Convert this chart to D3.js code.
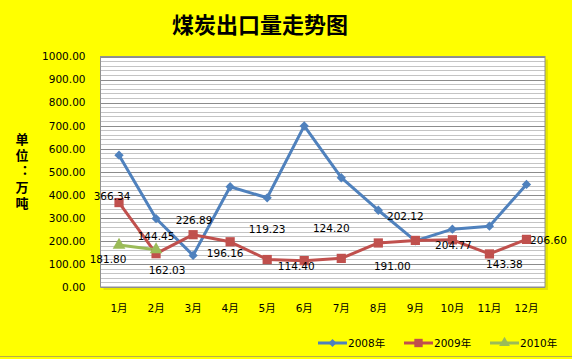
<!DOCTYPE html>
<html>
<head>
<meta charset="utf-8">
<script src="https://cdn.jsdelivr.net/npm/d3@7"></script>
<style>
  body { margin: 0; background: #ffff00; }
  svg { display: block; }
</style>
</head>
<body>
<div id="chart"></div>
<script>
// data
var months = ['1月', '2月', '3月', '4月', '5月', '6月', '7月', '8月', '9月', '10月', '11月', '12月'];
var yTicks = [0, 100, 200, 300, 400, 500, 600, 700, 800, 900, 1000];
var series2008 = [572, 297, 137, 435, 387, 699, 474, 333, 200, 251, 264, 445];
var series2009 = [366.34, 144.45, 226.89, 196.16, 119.23, 114.40, 124.20, 191.00, 202.12, 204.77, 143.38, 206.60];
var series2010 = [181.80, 162.03];
var seriesNames = ['2008年', '2009年', '2010年'];

// hand placed label offsets (px), like the moved labels in the original sheet
var labelOffsets2009 = [[-7, -6], [0, -17], [1, -14], [-5, 12], [0, -30], [-8, 6], [-10, -30], [14, 23], [-10, -24], [1, 6], [15, 10], [22, 1]];
var labelOffsets2010 = [[-11, 14], [11, 21]];

var width = 572, height = 359;
var plot = { left: 100.5, right: 545, top: 56.5, bottom: 287 };
var colors = ['#4f81bd', '#c0504d', '#9bbb59'];

var svg = d3.select('#chart')
    .append('svg')
    .attr('width', width)
    .attr('height', height)
    .style('font-family', '"DejaVu Sans", sans-serif');

svg.append('rect')
    .attr('width', width)
    .attr('height', height)
    .attr('fill', '#ffff00');

svg.append('line')
    .attr('x1', 0).attr('x2', width)
    .attr('y1', 356.5).attr('y2', 356.5)
    .attr('stroke', '#b8ae4a')
    .attr('stroke-width', 1);

var x = d3.scaleBand().domain(months).range([plot.left, plot.right]).padding(0);
var y = d3.scaleLinear().domain([0, 1000]).range([plot.bottom, plot.top]);
var cx = function(i) { return x(months[i]) + x.bandwidth() / 2; };

// title
svg.append('text')
    .attr('x', 260)
    .attr('y', 33)
    .attr('text-anchor', 'middle')
    .style('font-family', '"Noto Sans CJK SC", sans-serif')
    .style('font-weight', 700)
    .style('font-size', '22px')
    .text('煤炭出口量走势图');

// plot area + shadow
svg.append('rect')
    .attr('x', plot.left + 3)
    .attr('y', plot.top + 3)
    .attr('width', plot.right - plot.left)
    .attr('height', plot.bottom - plot.top)
    .attr('fill', '#e6e600');

svg.append('rect')
    .attr('x', plot.left)
    .attr('y', plot.top)
    .attr('width', plot.right - plot.left)
    .attr('height', plot.bottom - plot.top)
    .attr('fill', '#ffffff');

// minor gridlines every 20, major every 100
var minor = d3.range(20, 1000, 20).filter(function(v) { return v % 100 !== 0; });
svg.append('g')
    .selectAll('line')
    .data(minor)
    .enter()
    .append('line')
    .attr('x1', plot.left).attr('x2', plot.right)
    .attr('y1', function(d) { return Math.round(y(d)) + 0.5; })
    .attr('y2', function(d) { return Math.round(y(d)) + 0.5; })
    .attr('stroke', '#c4c4c4');

svg.append('g')
    .selectAll('line')
    .data(yTicks)
    .enter()
    .append('line')
    .attr('x1', plot.left).attr('x2', plot.right)
    .attr('y1', function(d) { return Math.round(y(d)) + 0.5; })
    .attr('y2', function(d) { return Math.round(y(d)) + 0.5; })
    .attr('stroke', '#8c8c8c');

svg.append('rect')
    .attr('x', plot.left)
    .attr('y', plot.top)
    .attr('width', plot.right - plot.left)
    .attr('height', plot.bottom - plot.top)
    .attr('fill', 'none')
    .attr('stroke', '#909090');

// axes
var yAxis = svg.append('g')
    .attr('transform', `translate(${plot.left}, 0)`)
    .call(d3.axisLeft(y).tickValues(yTicks).tickFormat(d3.format('.2f')).tickSize(0).tickPadding(15));
yAxis.select('.domain').remove();
yAxis.selectAll('text')
    .style('font-family', '"DejaVu Sans", sans-serif')
    .style('font-size', '10.5px')
    .attr('fill', '#000');

var xAxis = svg.append('g')
    .attr('transform', `translate(0, ${plot.bottom})`)
    .call(d3.axisBottom(x).tickSize(0).tickPadding(18));
xAxis.select('.domain').remove();
xAxis.selectAll('text')
    .style('font-family', '"DejaVu Sans", "Noto Sans CJK SC", sans-serif')
    .style('font-size', '10.5px')
    .attr('fill', '#000');

// y axis title, written vertically
svg.append('text')
    .attr('x', 22)
    .attr('y', 133)
    .style('writing-mode', 'vertical-rl')
    .style('text-orientation', 'upright')
    .style('letter-spacing', '3px')
    .style('font-family', '"Noto Sans CJK SC", sans-serif')
    .style('font-weight', 700)
    .style('font-size', '13px')
    .text('单位：万吨');

// lines
var allSeries = [series2008, series2009, series2010];
var line = d3.line()
    .x(function(d, i) { return cx(i); })
    .y(function(d) { return y(d); });

allSeries.forEach(function(s, k) {
    svg.append('path')
        .datum(s)
        .attr('d', line)
        .attr('fill', 'none')
        .attr('stroke', colors[k])
        .attr('stroke-width', 3)
        .attr('stroke-linejoin', 'round');
});

var symbols = [
    d3.symbol().type(d3.symbolDiamond2).size(55),
    d3.symbol().type(d3.symbolSquare).size(85),
    d3.symbol().type(d3.symbolTriangle).size(70)
];

allSeries.forEach(function(s, k) {
    svg.append('g')
        .selectAll('path')
        .data(s)
        .enter()
        .append('path')
        .attr('d', symbols[k])
        .attr('transform', function(d, i) { return `translate(${cx(i)}, ${y(d)})`; })
        .attr('fill', colors[k]);
});

// data labels
function drawLabels(values, offsets) {
    svg.append('g')
        .selectAll('text')
        .data(values)
        .enter()
        .append('text')
        .attr('x', function(d, i) { return cx(i) + offsets[i][0]; })
        .attr('y', function(d, i) { return y(d) + offsets[i][1]; })
        .attr('dy', '0.35em')
        .attr('text-anchor', 'middle')
        .style('font-size', '10.5px')
        .attr('fill', '#000')
        .text(function(d) { return d3.format('.2f')(d); });
}
drawLabels(series2009, labelOffsets2009);
drawLabels(series2010, labelOffsets2010);

// legend
var legendX = [318, 404, 490];
var legendSymbols = [
    d3.symbol().type(d3.symbolDiamond2).size(40),
    d3.symbol().type(d3.symbolSquare).size(70),
    d3.symbol().type(d3.symbolTriangle).size(50)
];
var legend = svg.append('g');
seriesNames.forEach(function(name, k) {
    var g = legend.append('g').attr('transform', `translate(${legendX[k]}, 343)`);
    g.append('line')
        .attr('x1', 0).attr('x2', 29)
        .attr('stroke', colors[k])
        .attr('stroke-width', 3);
    g.append('path')
        .attr('d', legendSymbols[k])
        .attr('transform', 'translate(14.5, 0)')
        .attr('fill', colors[k]);
    g.append('text')
        .attr('x', 30)
        .attr('dy', '0.35em')
        .style('font-family', '"DejaVu Sans", "Noto Sans CJK SC", sans-serif')
        .style('font-size', '10.5px')
        .text(name);
});
</script>
</body>
</html>
